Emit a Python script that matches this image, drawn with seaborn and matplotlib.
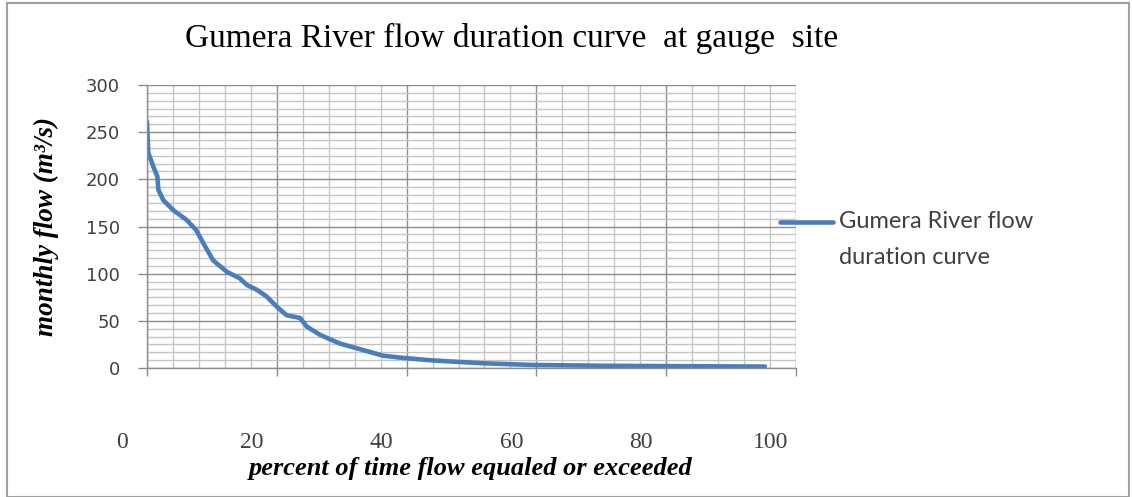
import matplotlib
matplotlib.use("Agg")
import matplotlib.pyplot as plt
from matplotlib.ticker import MultipleLocator
from matplotlib.transforms import ScaledTranslation
from matplotlib.patches import Rectangle
from matplotlib.lines import Line2D
import seaborn as sns
import pandas as pd

# ---- data ----
percent_exceeded = [0, 0.2, 1.0, 1.6, 1.75, 2.5, 4.1, 6.1, 7.6, 8.7, 10.2, 12.3, 14.3,
                    15.4, 16.9, 18.4, 20.0, 21.5, 23.6, 24.6, 26.7, 29.7, 33.3, 36.4,
                    39.0, 44.0, 51.8, 59.5, 69.8, 80.0, 95.2]
monthly_flow = [261, 228, 213, 203, 189, 178, 167, 157, 146, 132, 114, 102, 95,
                88, 83, 76, 65, 56, 53, 44, 35, 26, 19, 13, 11, 8, 5, 3.2, 2.4, 2.0, 1.5]
x_ticks = [0, 20, 40, 60, 80, 100]
y_ticks = [0, 50, 100, 150, 200, 250, 300]
series_name = "Gumera River flow duration curve"
title = "Gumera River flow duration curve  at gauge  site"
xlabel = "percent of time flow equaled or exceeded"
ylabel = "monthly flow (m³/s)"

df = pd.DataFrame({"pct": percent_exceeded, "flow": monthly_flow})

sns.set_theme(style="white")
W, H = 1132, 497
fig = plt.figure(figsize=(W / 100, H / 100), dpi=100)
ax = fig.add_axes([147 / W, (H - 368) / H, (796 - 147) / W, (368 - 85) / H])

line_color = "#4a7ebb"
sns.lineplot(data=df, x="pct", y="flow", ax=ax, color=line_color, linewidth=3.3,
             sort=False, estimator=None, legend=False)

ax.set_xlim(0, 100)
ax.set_ylim(0, 300)
ax.set_xticks(x_ticks)
ax.set_yticks(y_ticks)
ax.xaxis.set_minor_locator(MultipleLocator(4))
ax.yaxis.set_minor_locator(MultipleLocator(50 / 6))
ax.set_axisbelow(True)
ax.grid(which="major", color="#8c8c8c", linewidth=1.0)
ax.grid(which="minor", color="#c4c4c4", linewidth=1.0)

for s in ["top", "right"]:
    ax.spines[s].set_visible(False)
for s in ["left", "bottom"]:
    ax.spines[s].set_color("#8c8c8c")
    ax.spines[s].set_linewidth(1.0)

ax.tick_params(axis="y", which="major", left=True, length=6.5, width=1.0, color="#8c8c8c",
               pad=13, labelsize=13, labelcolor="#404040")
ax.tick_params(axis="x", which="major", bottom=True, length=6, width=1.0, color="#8c8c8c",
               pad=40, labelsize=17, labelcolor="#404040")
ax.tick_params(which="minor", length=0)
ax.set_xticklabels([str(v) for v in x_ticks], fontfamily="Liberation Serif")
ax.set_yticklabels([str(v) for v in y_ticks], fontfamily="DejaVu Sans")
off = ScaledTranslation(-25 / 100, 0, fig.dpi_scale_trans)
for lab in ax.get_xticklabels():
    lab.set_transform(lab.get_transform() + off)

ax.set_xlabel("")
ax.set_ylabel("")
fig.text(471 / W, 1 - 468 / H, xlabel, ha="center", va="center", fontsize=19,
         fontfamily="Liberation Serif", fontweight="bold", fontstyle="italic", color="black")
fig.text(46 / W, 1 - 227 / H, ylabel, ha="center", va="center", rotation=90, fontsize=19.5,
         fontfamily="Liberation Serif", fontweight="bold", fontstyle="italic", color="black")
fig.text(512 / W, 1 - 38 / H, title, ha="center", va="center", fontsize=24,
         fontfamily="Liberation Serif", color="black")

# legend (manual, Excel style on the right)
fig.add_artist(Line2D([780 / W, 833 / W], [1 - 222 / H, 1 - 222 / H], color=line_color,
                      linewidth=3.3, transform=fig.transFigure))
fig.text(839 / W, 1 - 222 / H, "Gumera River flow", ha="left", va="center", fontsize=17,
         fontfamily="Lato", color="#404040")
fig.text(839 / W, 1 - 257 / H, "duration curve", ha="left", va="center", fontsize=17,
         fontfamily="Lato", color="#404040")

# chart border
fig.add_artist(Rectangle((7 / W, 0 / H), (1129 - 7) / W, (H - 3) / H, fill=False,
                         edgecolor="#a0a0a0", linewidth=1.5, transform=fig.transFigure))

fig.savefig("out.png", dpi=100, facecolor="white")
